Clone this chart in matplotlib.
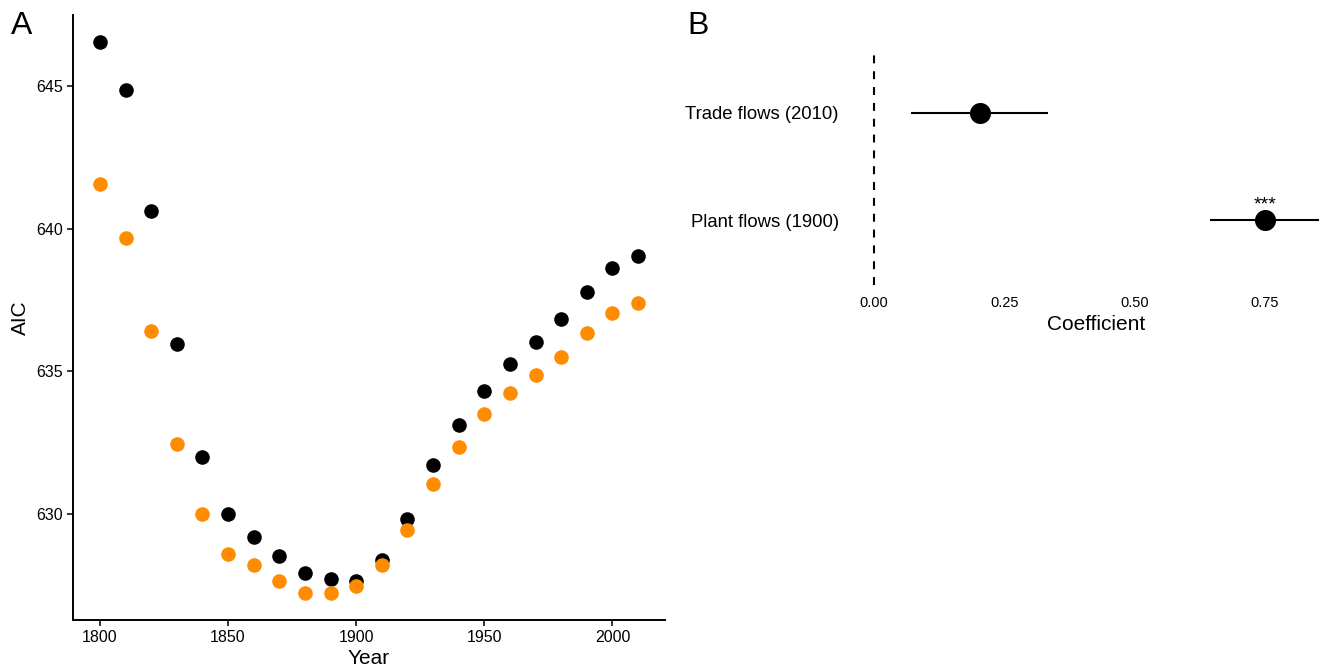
"""
Two-panel figure: AIC by reference year (A) and regression coefficients (B).
"""

import matplotlib
matplotlib.use("Agg")
import matplotlib.pyplot as plt

plt.rcParams["font.family"] = ["Liberation Sans", "DejaVu Sans"]

# ── Data ─────────────────────────────────────────────────────────────

years = [1800, 1810, 1820, 1830, 1840, 1850, 1860, 1870, 1880, 1890, 1900,
         1910, 1920, 1930, 1940, 1950, 1960, 1970, 1980, 1990, 2000, 2010]

aic_black = [646.54, 644.86, 640.63, 635.95, 632.00, 630.00, 629.19, 628.53,
             627.93, 627.72, 627.65, 628.40, 629.83, 631.73, 633.11, 634.30,
             635.25, 636.03, 636.82, 637.77, 638.63, 639.05]

aic_orange = [641.58, 639.68, 636.42, 632.44, 630.00, 628.61, 628.22, 627.63,
              627.23, 627.23, 627.46, 628.22, 629.44, 631.06, 632.36, 633.51,
              634.25, 634.86, 635.51, 636.35, 637.05, 637.40]

terms = ["Plant flows (1900)", "Trade flows (2010)"]
coef = [0.750, 0.203]
coef_lo = [0.645, 0.071]
coef_hi = [1.00, 0.334]
stars = ["***", ""]

W, H = 1319, 670
fig = plt.figure(figsize=(W / 100, H / 100), dpi=100, facecolor="white")


def _box(left, top, right, bottom):
    return [left / W, 1 - bottom / H, (right - left) / W, (bottom - top) / H]


# ── A. AIC scatter ───────────────────────────────────────────────────

ax_a = fig.add_axes(_box(73, 15, 665, 620))
ax_a.scatter(years, aic_black, s=110, color="black", zorder=3, linewidths=0)
ax_a.scatter(years, aic_orange, s=110, color="#ff8c00", zorder=3, linewidths=0)
ax_a.set_xlim(1789.5, 2020.5)
ax_a.set_ylim(626.28, 647.49)
ax_a.set_xticks([1800, 1850, 1900, 1950, 2000])
ax_a.set_yticks([630, 635, 640, 645])
ax_a.set_xlabel("Year", fontsize=15, labelpad=3)
ax_a.set_ylabel("AIC", fontsize=15, labelpad=5)
ax_a.spines[["top", "right"]].set_visible(False)
for side in ("left", "bottom"):
    ax_a.spines[side].set_linewidth(1.4)
ax_a.tick_params(axis="both", labelsize=11.5, length=4, width=1.1, pad=3)
fig.text(11 / W, 1 - 26 / H, "A", fontsize=23, va="center", ha="left")

# ── B. Coefficient plot ──────────────────────────────────────────────

ax_b = fig.add_axes(_box(847, 48, 1319, 285))
ypos = list(range(1, len(terms) + 1))
ax_b.axvline(0, color="black", lw=1.5, linestyle=(0, (3.8, 3.8)), zorder=1)
ax_b.hlines(ypos, coef_lo, coef_hi, color="black", lw=1.5, zorder=2)
ax_b.scatter(coef, ypos, s=230, color="black", zorder=3, linewidths=0)
for x, y, s in zip(coef, ypos, stars):
    if s:
        ax_b.text(x, y + 0.065, s, ha="center", va="bottom", fontsize=14)
ax_b.set_xlim(-0.052, 0.854)
ax_b.set_ylim(0.4, 2.6)
ax_b.set_yticks(ypos)
ax_b.set_yticklabels(terms)
ax_b.set_xticks([0.0, 0.25, 0.5, 0.75])
ax_b.set_xticklabels(["0.00", "0.25", "0.50", "0.75"])
ax_b.set_xlabel("Coefficient", fontsize=15)
ax_b.xaxis.set_label_coords(0.528, -0.125)
for side in ax_b.spines.values():
    side.set_visible(False)
ax_b.tick_params(axis="x", length=0, labelsize=10.5, pad=8)
ax_b.tick_params(axis="y", length=0, labelsize=13.3, pad=6)
fig.text(687 / W, 1 - 26 / H, "B", fontsize=23, va="center", ha="left")

fig.savefig("out.png", dpi=100, facecolor="white")
